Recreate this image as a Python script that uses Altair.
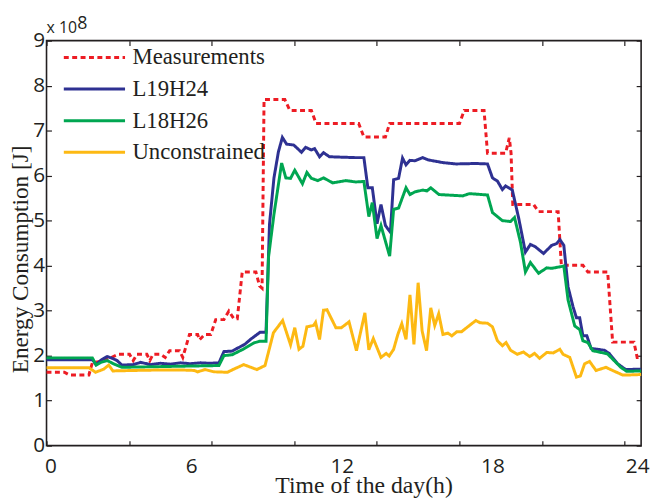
import altair as alt
import pandas as pd

# ---------------- data (hours, energy in 1e8 J) ----------------
SERIES = ["Measurements", "L19H24", "L18H26", "Unconstrained"]
COLORS = ["#ED1C24", "#2E3192", "#00A651", "#FDB913"]
DASHES = [[5, 3.5], [1, 0], [1, 0], [1, 0]]

MEAS_H = [0.0, 0.72, 0.92, 1.71, 1.85, 2.3, 2.9, 3.35, 3.5, 3.65, 4.05, 4.17, 4.3, 4.6, 4.79,
          4.97, 5.37, 5.5, 5.77, 6.1, 6.17, 6.38, 6.63, 6.83, 7.16, 7.36, 7.56, 7.7, 7.9, 8.45,
          8.6, 8.7, 8.78, 9.62, 9.82, 10.69, 10.88, 12.6, 12.81, 13.68, 13.85, 16.67, 16.86,
          17.66, 17.8, 18.53, 18.68, 18.75, 18.82, 19.66, 19.86, 20.65, 20.78, 21.65, 21.85,
          22.65, 22.85, 23.71, 23.84, 24.0]
MEAS_V = [1.63, 1.63, 1.57, 1.57, 1.84, 1.88, 2.03, 2.03, 1.89, 2.03, 2.03, 1.89, 2.03, 2.03, 1.96,
          2.11, 2.11, 1.96, 2.47, 2.47, 2.35, 2.47, 2.47, 2.80, 2.80, 2.99, 2.82, 2.82, 3.86, 3.86,
          3.55, 3.5, 7.69, 7.69, 7.45, 7.45, 7.16, 7.16, 6.86, 6.86, 7.16, 7.16, 7.45,
          7.45, 6.50, 6.50, 6.84, 6.5, 5.36, 5.36, 5.2, 5.2, 4.01, 4.01, 3.86,
          3.86, 2.30, 2.30, 1.96, 1.96]

BLUE_H = [0.0, 1.85, 2.0, 2.2, 2.45, 2.7, 2.85, 3.04, 3.5, 3.8, 4.2, 4.6, 5.0, 5.4, 5.8, 6.2, 6.6,
          6.96, 7.16, 7.49, 7.69, 8.0, 8.23, 8.62, 8.86, 9.0, 9.18, 9.36, 9.52, 9.69, 9.98, 10.29,
          10.46, 10.69, 10.82, 11.02, 11.18, 11.42, 11.95, 12.48, 12.81, 12.97, 13.15, 13.34, 13.5,
          13.68, 13.88, 14.01, 14.21, 14.37, 14.51, 14.67, 14.87, 15.18, 15.4, 16.0, 16.53, 17.33,
          17.8, 18.0, 18.2, 18.4, 18.53, 18.8, 19.06, 19.33, 19.53, 19.73, 20.06, 20.39, 20.59,
          20.72, 20.88, 21.05, 21.25, 21.39, 21.52, 21.65, 21.81, 21.98, 22.51, 22.71, 23.05,
          23.38, 24.0]
BLUE_V = [1.91, 1.91, 1.80, 1.90, 1.98, 1.93, 1.89, 1.79, 1.80, 1.85, 1.80, 1.83, 1.81, 1.84, 1.82,
          1.84, 1.83, 1.84, 2.09, 2.10, 2.16, 2.25, 2.36, 2.52, 2.52, 4.92, 5.95, 6.53, 6.85, 6.70,
          6.68, 6.52, 6.63, 6.57, 6.60, 6.42, 6.51, 6.42, 6.41, 6.40, 6.40, 5.73, 5.73, 4.93, 5.36,
          4.89, 4.74, 5.91, 5.94, 6.39, 6.24, 6.34, 6.33, 6.40, 6.35, 6.29, 6.26, 6.27, 6.26, 5.95,
          5.88, 5.69, 5.77, 5.68, 5.05, 4.30, 4.47, 4.42, 4.27, 4.45, 4.49, 4.58, 4.45, 3.53, 3.09,
          2.84, 2.84, 2.44, 2.44, 2.16, 2.12, 2.05, 1.82, 1.69, 1.70]

GREEN_H = [0.0, 1.85, 2.0, 2.2, 2.45, 2.7, 3.04, 4.0, 5.0, 6.0, 6.96, 7.16, 7.49, 7.93, 8.36, 8.6,
           8.86, 8.96, 9.18, 9.49, 9.66, 9.85, 10.02, 10.33, 10.51, 10.69, 10.95, 11.18, 11.55,
           12.08, 12.48, 12.81, 13.01, 13.15, 13.34, 13.5, 13.85, 14.01, 14.21, 14.51, 14.67,
           14.87, 15.2, 15.35, 15.51, 15.84, 16.8, 17.07, 17.8, 18.0, 18.4, 18.73, 18.89, 19.13,
           19.33, 19.53, 19.86, 20.19, 20.39, 20.88, 21.05, 21.32, 21.52, 21.65, 21.85, 22.05,
           22.64, 23.18, 23.42, 24.0]
GREEN_V = [1.95, 1.95, 1.79, 1.85, 1.89, 1.82, 1.74, 1.75, 1.76, 1.77, 1.78, 2.0, 2.02, 2.14, 2.28,
           2.32, 2.32, 4.19, 5.14, 6.28, 5.95, 5.94, 6.12, 5.82, 6.07, 5.94, 5.89, 5.95, 5.84,
           5.89, 5.86, 5.87, 5.09, 5.40, 4.60, 4.89, 4.21, 5.25, 5.28, 5.73, 5.58,
           5.64, 5.68, 5.66, 5.73, 5.58, 5.55, 5.60, 5.57, 5.18, 5.0, 4.98, 5.07, 4.52,
           3.86, 4.07, 3.83, 3.95, 3.94, 3.99, 3.24, 2.66, 2.58, 2.33, 2.29, 2.11,
           2.04, 1.74, 1.65, 1.66]

YEL_H = [0.0, 1.71, 1.98, 2.31, 2.51, 2.68, 3.5, 4.5, 5.5, 5.97, 6.1, 6.4, 6.76, 7.3, 7.56, 7.96,
         8.49, 8.82, 9.16, 9.53, 9.85, 10.02, 10.19, 10.35, 10.51, 10.78, 10.86, 11.02, 11.18,
         11.32, 11.68, 11.9, 12.21, 12.51, 12.85, 13.01, 13.19, 13.5, 13.71, 13.83, 14.01, 14.18,
         14.34, 14.51, 14.67, 14.83, 15.0, 15.16, 15.34, 15.51, 15.67, 15.83, 16.0, 16.2, 16.36,
         16.56, 16.75, 17.0, 17.33, 17.5, 17.8, 18.0, 18.2, 18.4, 18.55, 18.73, 19.0, 19.25,
         19.5, 19.7, 19.9, 20.19, 20.45, 20.72, 20.85, 21.12, 21.39, 21.55, 21.72, 21.92, 22.18,
         22.58, 22.85, 23.25, 23.5, 24.0]
YEL_V = [1.73, 1.73, 1.63, 1.70, 1.79, 1.66, 1.67, 1.68, 1.68, 1.67, 1.64, 1.69, 1.64, 1.63, 1.70,
         1.80, 1.69, 1.78, 2.51, 2.78, 2.24, 2.62, 2.14, 2.21, 2.64, 2.67, 2.74, 2.36, 3.01,
         3.02, 2.62, 2.62, 2.75, 2.11, 2.95, 2.13, 2.38, 1.96, 2.05, 1.99, 2.14, 2.47,
         2.71, 2.36, 3.35, 2.25, 3.62, 2.55, 2.11, 3.06, 2.67, 2.93, 2.47, 2.50, 2.44,
         2.53, 2.53, 2.64, 2.78, 2.73, 2.72, 2.64, 2.33, 2.22, 2.29, 2.12, 2.03, 2.08,
         1.98, 2.05, 1.94, 2.07, 2.06, 2.14, 2.03, 1.96, 1.52, 1.55, 1.82, 1.87, 1.67,
         1.74, 1.67, 1.57, 1.57, 1.58]

X_LABEL_VALUES = [0, 6, 12, 18, 24]
X_TICK_VALUES = [0, 3.3333, 6.6667, 10, 13.3333, 16.6667, 20, 23.3333]
Y_VALUES = [0, 1, 2, 3, 4, 5, 6, 7, 8, 9]
EXP_BASE = "x 10"
EXP_POWER = "8"
X_TITLE = "Time of the day(h)"
Y_TITLE = "Energy Consumption [J]"

# ---------------- build table ----------------
rows = []
for name, hs, vs in [("Measurements", MEAS_H, MEAS_V), ("L19H24", BLUE_H, BLUE_V),
                     ("L18H26", GREEN_H, GREEN_V), ("Unconstrained", YEL_H, YEL_V)]:
    assert len(hs) == len(vs), name
    for i, (h, v) in enumerate(zip(hs, vs)):
        rows.append({"series": name, "h": h, "v": v, "i": i})
df = pd.DataFrame(rows)

W, H = 602, 410
INK = "#231f20"
SANS = "Open Sans"
SERIF = "Liberation Serif"

xscale = alt.Scale(domain=[0, 24], nice=False, zero=False)
yscale = alt.Scale(domain=[0, 9], nice=False, zero=False)

leg = alt.Legend(title=None, orient="none", legendX=16, legendY=1, symbolType="stroke",
                 symbolSize=3844, symbolStrokeWidth=3, labelFont=SERIF, labelFontSize=23,
                 labelColor=INK, labelOffset=6, clipHeight=32, rowPadding=0, padding=0)

x_label_offset = {
    "condition": [
        {"test": "datum.value === 0", "value": 4},
        {"test": "datum.value === 6", "value": -4},
        {"test": "datum.value === 12", "value": -2},
        {"test": "datum.value === 24", "value": -4},
    ],
    "value": 0,
}

x_label_axis = alt.Axis(orient="bottom", values=X_LABEL_VALUES, format="d", ticks=False,
                        tickSize=0, domain=False, grid=False, labelFlush=False,
                        labelOffset=x_label_offset,
                        labelFont=SANS, labelFontSize=21, labelColor=INK, labelPadding=10,
                        title=X_TITLE, titleFont=SERIF, titleFontSize=24,
                        titleFontWeight="normal", titleColor=INK, titleX=321, titleY=47,
                        titleBaseline="alphabetic", titleAlign="center")
y_label_axis = alt.Axis(orient="left", values=Y_VALUES, format="d", ticks=False, tickSize=0,
                        domain=False, grid=False, labelFlush=False, labelFont=SANS,
                        labelFontSize=21, labelColor=INK, labelPadding=2,
                        title=Y_TITLE, titleFont=SERIF, titleFontSize=23.5,
                        titleFontWeight="normal", titleColor=INK, titleAngle=270,
                        titleX=-19.5, titleY=221, titleBaseline="alphabetic",
                        titleAlign="center")

lines = alt.Chart(df).mark_line(strokeWidth=3).encode(
    x=alt.X("h:Q", scale=xscale, axis=x_label_axis),
    y=alt.Y("v:Q", scale=yscale, axis=y_label_axis),
    color=alt.Color("series:N", scale=alt.Scale(domain=SERIES, range=COLORS), legend=leg),
    strokeDash=alt.StrokeDash("series:N", scale=alt.Scale(domain=SERIES, range=DASHES), legend=leg),
    order="i:Q",
)

def tick_axis(orient, offset, values):
    return alt.Axis(orient=orient, offset=offset, values=values, labels=False, ticks=True,
                    tickSize=5, tickWidth=1.2, tickColor=INK, domain=False, grid=False,
                    title=None)

ticks_a = alt.Chart(df).mark_line(opacity=0, strokeOpacity=0).encode(
    x=alt.X("h:Q", scale=xscale, axis=tick_axis("top", -H, X_TICK_VALUES)),
    y=alt.Y("v:Q", scale=yscale, axis=tick_axis("right", -W, Y_VALUES)),
)
ticks_b = alt.Chart(df).mark_line(opacity=0, strokeOpacity=0).encode(
    x=alt.X("h:Q", scale=xscale, axis=tick_axis("bottom", -H, X_TICK_VALUES)),
    y=alt.Y("v:Q", scale=yscale, axis=tick_axis("left", -W, Y_VALUES)),
)

exp_base = alt.Chart(pd.DataFrame({"t": [EXP_BASE]})).mark_text(
    align="left", baseline="alphabetic", font=SANS, fontSize=16, color=INK
).encode(x=alt.value(0), y=alt.value(-8), text="t:N")
exp_pow = alt.Chart(pd.DataFrame({"t": [EXP_POWER]})).mark_text(
    align="left", baseline="alphabetic", font=SANS, fontSize=18, color=INK
).encode(x=alt.value(31), y=alt.value(-11.5), text="t:N")

chart = alt.layer(ticks_a, ticks_b, lines, exp_base, exp_pow).resolve_axis(
    x="independent", y="independent"
).properties(
    width=W, height=H,
    autosize=alt.AutoSizeParams(type="none"),
    padding={"left": 39, "top": 30, "right": 10, "bottom": 52},
    background="white",
).configure_view(stroke=INK, strokeWidth=1.6)

chart.save("out.html", embed_options={"renderer": "svg", "actions": False})
